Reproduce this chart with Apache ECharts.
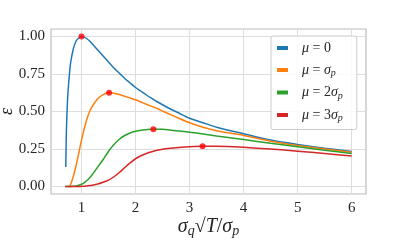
<!DOCTYPE html>
<html>
<head>
<meta charset="utf-8">
<script src="https://cdn.jsdelivr.net/npm/echarts@6/dist/echarts.min.js"></script>
<style>
html,body{margin:0;padding:0;background:#fff;}
#chart{width:407px;height:244px;}
</style>
</head>
<body>
<div id="chart"></div>
<script>
// x values (sigma_q sqrt(T) / sigma_p)
const xValues = [0.70, 0.708, 0.72, 0.74, 0.76, 0.78, 0.80, 0.85, 0.90, 0.95, 1.00, 1.05, 1.10, 1.15, 1.20, 1.30, 1.40, 1.50, 1.60, 1.70, 1.80, 1.90, 2.00, 2.10, 2.20, 2.30, 2.40, 2.50, 2.60, 2.80, 3.00, 3.25, 3.50, 4.00, 4.50, 5.00, 5.50, 6.00];
// epsilon for mu = 0
const eps0 = [null, 0.13, 0.37, 0.57, 0.68, 0.765, 0.83, 0.92, 0.97, 0.99, 1.00, 0.996, 0.985, 0.97, 0.95, 0.91, 0.87, 0.83, 0.79, 0.755, 0.72, 0.69, 0.66, 0.635, 0.61, 0.587, 0.565, 0.545, 0.525, 0.49, 0.455, 0.425, 0.395, 0.352, 0.31, 0.28, 0.255, 0.234];
// epsilon for mu = sigma_p
const eps1 = [null, null, null, null, null, 0.0, 0.015, 0.07, 0.14, 0.225, 0.31, 0.385, 0.45, 0.50, 0.535, 0.585, 0.613, 0.625, 0.622, 0.613, 0.602, 0.59, 0.578, 0.563, 0.548, 0.534, 0.52, 0.503, 0.487, 0.455, 0.425, 0.395, 0.372, 0.34, 0.302, 0.274, 0.25, 0.228];
// epsilon for mu = 2 sigma_p
const eps2 = [0.0, 0.0, 0.0, 0.0, 0.0, 0.0, 0.0, 0.001, 0.004, 0.008, 0.015, 0.026, 0.04, 0.058, 0.08, 0.13, 0.18, 0.235, 0.28, 0.315, 0.34, 0.357, 0.368, 0.375, 0.379, 0.382, 0.382, 0.381, 0.378, 0.37, 0.362, 0.35, 0.337, 0.313, 0.288, 0.265, 0.242, 0.22];
// epsilon for mu = 3 sigma_p
const eps3 = [0.0, 0.0, 0.0, 0.0, 0.0, 0.0, 0.0, 0.0, 0.0, 0.0, 0.001, 0.002, 0.004, 0.006, 0.009, 0.017, 0.028, 0.042, 0.065, 0.093, 0.127, 0.158, 0.185, 0.205, 0.22, 0.232, 0.241, 0.248, 0.253, 0.26, 0.265, 0.268, 0.268, 0.261, 0.25, 0.235, 0.22, 0.203];
// peak markers
const peakX = [1.00, 1.51, 2.33, 3.24];
const peakY = [1.00, 0.625, 0.382, 0.268];

const seriesNames = ['mu0', 'mu1', 'mu2', 'mu3'];
const legendLabels = ['{i|μ} = 0', '{i|μ} = {i|σ}{s|p}', '{i|μ} = 2{i|σ}{s|p}', '{i|μ} = 3{i|σ}{s|p}'];
const colors = ['#1f77b4', '#ff7f0e', '#2ca02c', '#d62728'];
const xTicks = [1, 2, 3, 4, 5, 6];
const yTicks = [0, 0.25, 0.5, 0.75, 1.0];

const allEps = [eps0, eps1, eps2, eps3];
const FONT = 'Liberation Serif';

const lineSeries = allEps.map((ys, k) => ({
  name: seriesNames[k],
  type: 'line',
  data: xValues.map((x, i) => [x, ys[i]]).filter(p => p[1] !== null),
  showSymbol: false,
  smooth: 0.2,
  lineStyle: { width: 1.5, color: colors[k] },
  itemStyle: { color: colors[k] },
  z: 2,
  animation: false
}));

const chart = echarts.init(document.getElementById('chart'), null, { renderer: 'canvas' });
chart.setOption({
  animation: false,
  color: colors,
  textStyle: { fontFamily: FONT, color: '#262626' },
  grid: { left: 51, right: 41, top: 29, bottom: 50, outerBoundsMode: 'none', containLabel: false, show: true, borderColor: '#bcbcbc', borderWidth: 1.2, backgroundColor: 'transparent' },
  xAxis: {
    type: 'value', min: 0.435, max: 6.265,
    axisLine: { show: false },
    axisTick: { show: false, customValues: xTicks },
    axisLabel: { customValues: xTicks, fontFamily: FONT, fontSize: 15, color: '#262626', margin: 7 },
    splitLine: { show: true, lineStyle: { color: '#dedede', width: 1 } },
    name: '{i|σ}{s|q}√{ov|T}/{i|σ}{s|p}',
    nameLocation: 'middle',
    nameMoveOverlap: false,
    nameGap: 21,
    nameTextStyle: {
      fontFamily: FONT, fontSize: 20, color: '#262626',
      rich: {
        i: { fontFamily: FONT, fontSize: 20, fontStyle: 'italic', color: '#262626' },
        s: { fontFamily: FONT, fontSize: 14, fontStyle: 'italic', color: '#262626', padding: [9, 0, 0, 0] },
        ov: { fontFamily: FONT, fontSize: 20, fontStyle: 'italic', color: '#262626' }
      }
    }
  },
  yAxis: {
    type: 'value', min: -0.05, max: 1.05,
    axisLine: { show: false },
    axisTick: { show: false, customValues: yTicks },
    axisLabel: { customValues: yTicks, fontFamily: FONT, fontSize: 15, color: '#262626', margin: 6, formatter: v => v.toFixed(2) },
    splitLine: { show: true, lineStyle: { color: '#dedede', width: 1 } },
    name: 'ε',
    nameLocation: 'middle',
    nameMoveOverlap: false,
    nameRotate: 90,
    nameGap: 35,
    nameTextStyle: { fontFamily: FONT, fontSize: 18, fontStyle: 'italic', color: '#262626' }
  },
  legend: {
    orient: 'vertical',
    left: 271, top: 36,
    data: seriesNames,
    icon: 'rect',
    itemWidth: 11, itemHeight: 4,
    itemGap: 6,
    padding: [4, 14, 6, 6],
    backgroundColor: 'rgba(255,255,255,0.85)',
    borderColor: '#cccccc', borderWidth: 1, borderRadius: 2,
    formatter: name => legendLabels[seriesNames.indexOf(name)],
    textStyle: {
      fontFamily: FONT, fontSize: 14, color: '#262626', lineHeight: 16, padding: [0, 0, 0, 9],
      rich: {
        i: { fontFamily: FONT, fontSize: 14, fontStyle: 'italic', color: '#262626' },
        s: { fontFamily: FONT, fontSize: 10, fontStyle: 'italic', color: '#262626', padding: [7, 0, 0, 0] }
      }
    }
  },
  series: lineSeries.concat([{
    name: 'peaks',
    type: 'scatter',
    data: peakX.map((x, i) => [x, peakY[i]]),
    symbolSize: 6,
    itemStyle: { color: '#ff0000' },
    z: 5,
    animation: false
  }])
});
</script>
</body>
</html>
